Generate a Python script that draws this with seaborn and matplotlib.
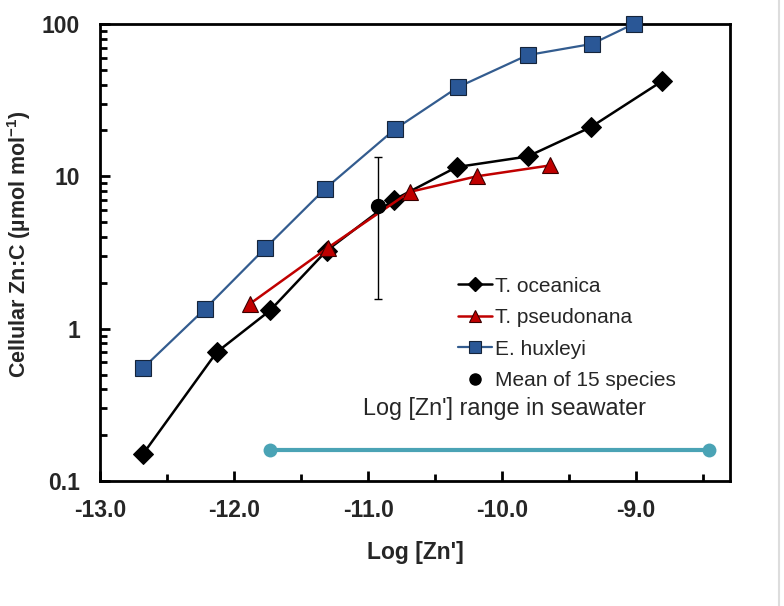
import numpy as np
import pandas as pd
import matplotlib
matplotlib.use("Agg")
import matplotlib.pyplot as plt
import seaborn as sns
from matplotlib.lines import Line2D
from matplotlib.ticker import FixedLocator, NullFormatter

# data
oceanica_x = [-12.68, -12.13, -11.73, -11.31, -10.81, -10.34, -9.81, -9.34, -8.81]
oceanica_y = [0.15, 0.70, 1.32, 3.25, 7.0, 11.5, 13.5, 21.0, 42.0]

pseudonana_x = [-11.88, -11.30, -10.69, -10.19, -9.64]
pseudonana_y = [1.46, 3.4, 7.9, 10.0, 11.8]

huxleyi_x = [-12.68, -12.22, -11.77, -11.32, -10.80, -10.33, -9.81, -9.33, -9.02]
huxleyi_y = [0.55, 1.34, 3.36, 8.3, 20.4, 38.5, 62.5, 74.0, 100.0]

mean_x = -10.93
mean_y = 6.35
mean_lo = 1.57
mean_hi = 13.3

seawater_x = [-11.73, -8.46]
seawater_y = [0.16, 0.16]

sns.set_style("ticks")
plt.rcParams['font.family'] = ['Liberation Sans', 'DejaVu Sans']
plt.rcParams['mathtext.fontset'] = 'custom'
plt.rcParams['mathtext.rm'] = 'Liberation Sans'
plt.rcParams['mathtext.bf'] = 'Liberation Sans:bold'

fig = plt.figure(figsize=(7.84, 6.06), dpi=100)
ax = fig.add_axes([0.1276, 0.2063, 0.8036, 0.7541])

# colours
c_ocean = 'black'
c_pseudo = '#C00000'
c_hux_line = '#335C8F'
c_hux_face = '#2A5796'
c_sea = '#4AA3B5'

sns.lineplot(x=oceanica_x, y=oceanica_y, sort=False, ax=ax, color=c_ocean, lw=1.8,
             marker='D', markersize=10, markerfacecolor='black', markeredgecolor='black',
             legend=False, zorder=3)
sns.lineplot(x=pseudonana_x, y=pseudonana_y, sort=False, ax=ax, color=c_pseudo, lw=1.8,
             marker='^', markersize=12, markerfacecolor=c_pseudo, markeredgecolor='#3a0000',
             markeredgewidth=0.8, legend=False, zorder=4)
sns.lineplot(x=huxleyi_x, y=huxleyi_y, sort=False, ax=ax, color=c_hux_line, lw=1.6,
             marker='s', markersize=12, markerfacecolor=c_hux_face, markeredgecolor='#15243a',
             markeredgewidth=0.8, legend=False, zorder=3, clip_on=False)

# mean of 15 species with its range
ax.errorbar([mean_x], [mean_y], yerr=[[mean_y - mean_lo], [mean_hi - mean_y]],
            fmt='o', color='black', ms=10, elinewidth=1, capsize=3, capthick=1, zorder=5)

# seawater range bar
sns.lineplot(x=seawater_x, y=seawater_y, ax=ax, color=c_sea, lw=3, marker='o',
             markersize=10, markeredgewidth=0, clip_on=False, legend=False)
ax.text(-9.98, 0.30, "Log [Zn'] range in seawater",
        ha='center', va='center', fontsize=16.8)

ax.set_yscale('log')
ax.set_ylim(0.1, 100)
ax.set_xlim(-13.0, -8.3)
ax.set_xticks([-13, -12, -11, -10, -9])
ax.set_xticklabels(['-13.0', '-12.0', '-11.0', '-10.0', '-9.0'])
ax.xaxis.set_minor_locator(FixedLocator([-12.5, -11.5, -10.5, -9.5, -8.5]))
ax.set_yticks([0.1, 1, 10, 100])
ax.set_yticklabels(['0.1', '1', '10', '100'])
ax.yaxis.set_minor_formatter(NullFormatter())

ax.tick_params(axis='both', which='both', direction='in', top=False, right=False,
               labelsize=16.5, width=2, color='black')
ax.tick_params(axis='both', which='major', length=7)
ax.tick_params(axis='x', which='major', pad=13)
ax.tick_params(axis='y', which='major', pad=14.5)
ax.tick_params(axis='both', which='minor', length=5)
for lab in ax.get_xticklabels() + ax.get_yticklabels():
    lab.set_fontweight('bold')
for sp in ax.spines.values():
    sp.set_linewidth(2)
    sp.set_color('black')

ax.set_xlabel("Log [Zn']", fontsize=16.5, fontweight='bold', labelpad=14)
ax.set_ylabel("Cellular Zn:C (\u00b5mol mol$^{\\mathbf{-1}}$)", fontsize=15.5,
              fontweight='bold')
ax.yaxis.set_label_coords(-0.106, 0.519)

# legend with small markers as in the original
handles = [
    Line2D([], [], color=c_ocean, lw=1.8, marker='D', ms=7, mfc='black', mec='black'),
    Line2D([], [], color=c_pseudo, lw=1.8, marker='^', ms=9, mfc=c_pseudo, mec='#3a0000', mew=0.8),
    Line2D([], [], color=c_hux_line, lw=1.6, marker='s', ms=8, mfc=c_hux_face, mec='#15243a', mew=0.8),
    Line2D([], [], color='black', lw=0, marker='o', ms=8),
]
labels = ['T. oceanica', 'T. pseudonana', 'E. huxleyi', 'Mean of 15 species']
ax.legend(handles, labels, loc='center left', bbox_to_anchor=(0.555, 0.3228),
          frameon=False, fontsize=15, handlelength=1.63, handletextpad=0.15,
          labelspacing=0.6, borderaxespad=0)

fig.add_artist(Line2D([0.9935, 0.9935], [0.0, 1.0], transform=fig.transFigure,
                      color='#dddddd', lw=1.5))

fig.savefig('out.png', dpi=100)
